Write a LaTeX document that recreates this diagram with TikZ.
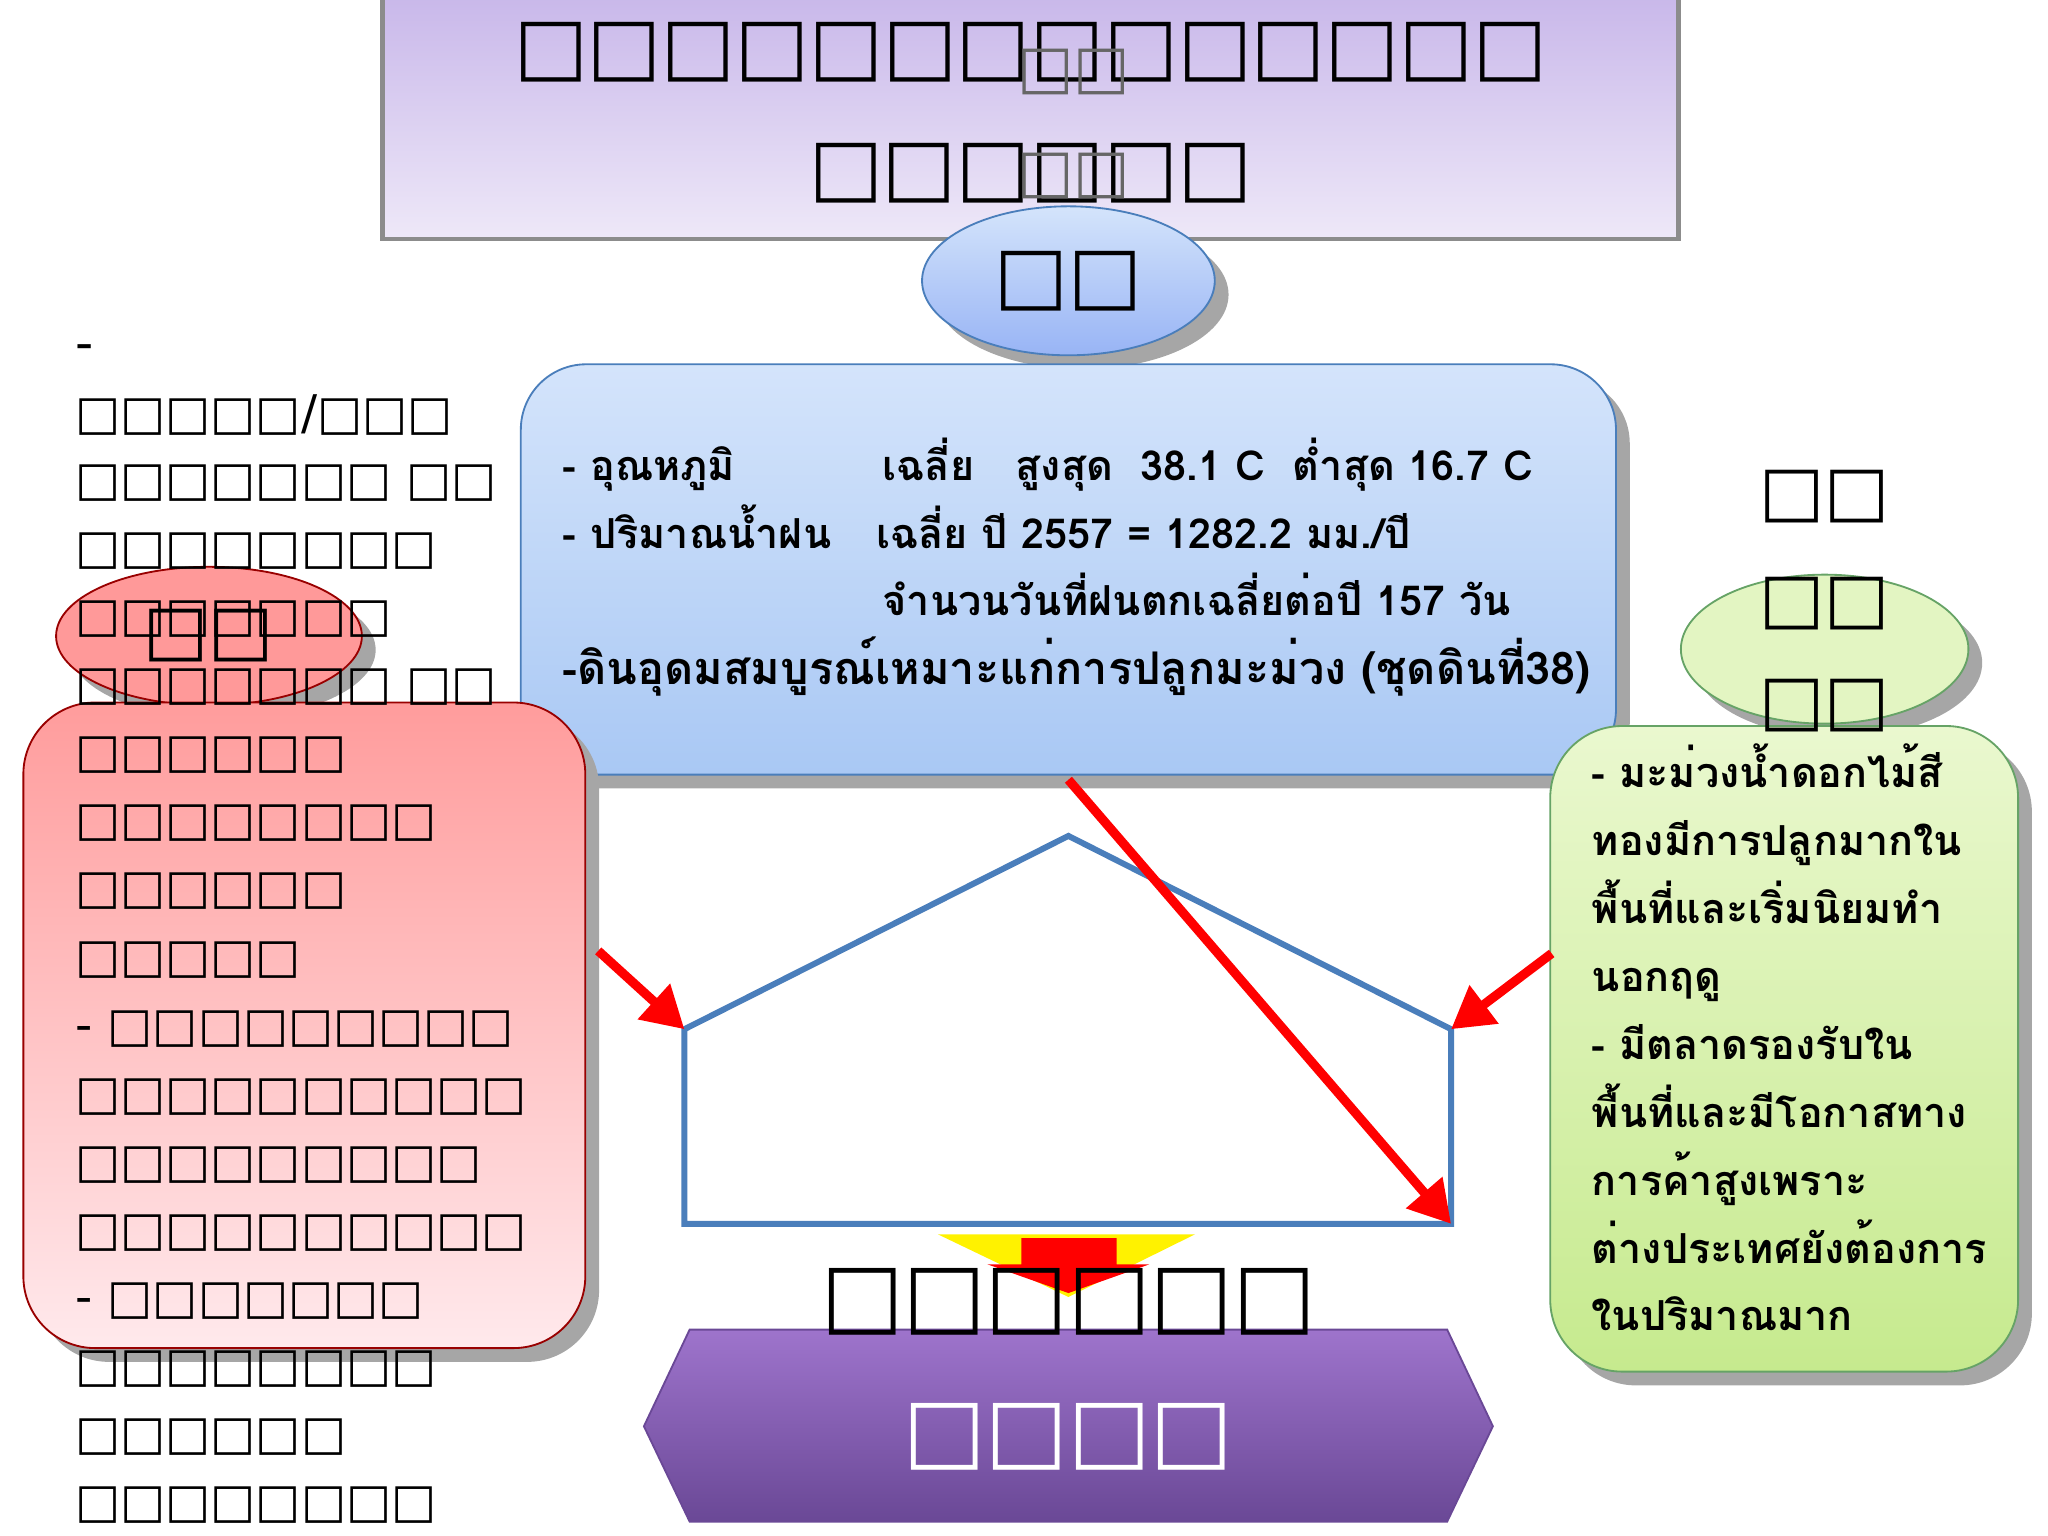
\documentclass[tikz,border=0pt]{standalone}
\usepackage{fontspec}
\setmainfont{DejaVu Sans}
\IfFontExistsTF{Garuda.otf}{\newfontfamily\thaifont{Garuda.otf}[BoldFont=Garuda-Bold.otf]}{%
  \IfFontExistsTF{Loma.otf}{\newfontfamily\thaifont{Loma.otf}[BoldFont=Loma-Bold.otf]}{%
    \newfontfamily\thaifont{DejaVu Sans}}}
\usetikzlibrary{shadows,shapes.geometric,arrows.meta}
\definecolor{titletop}{HTML}{C9B8EA}
\definecolor{titlebot}{HTML}{EEE8F8}
\definecolor{bluetop}{HTML}{D4E4FB}
\definecolor{bluebot}{HTML}{A9C8F4}
\definecolor{redtop}{HTML}{FF9C9C}
\definecolor{redbot}{HTML}{FFE9EC}
\definecolor{greentop}{HTML}{EAF8CF}
\definecolor{greenbot}{HTML}{C6EA8E}
\definecolor{houseblue}{HTML}{4A7EBB}
\definecolor{purtop}{HTML}{9E74CC}
\definecolor{purbot}{HTML}{6A4896}
\tikzset{
  tofu/.style={font=\fontsize{#1}{#1}\selectfont, inner sep=0pt},
  thai/.style={font=\thaifont\fontsize{9}{9}\selectfont\bfseries, inner sep=0pt, anchor=base west},
  redarrow/.style={draw=red, line width=2pt, -{Triangle[length=9pt,width=10pt]}},
  boxshadow/.style={drop shadow={shadow xshift=3pt, shadow yshift=-3pt, fill=gray!70, opacity=1}}
}
\begin{document}
\begin{tikzpicture}[x=0.01cm, y=-0.01cm]
        \useasboundingbox (0,0) rectangle (1568,1176);

        % Title
        \fill [top color=titletop, bottom color=titlebot] (293,-2) rectangle (1285,183);
        \draw [black!45, line width=1pt] (293,-2) -- (293,183) -- (1285,183) -- (1285,-2);
        \node [tofu=17] (t1) at (789,40) {□□□□□□□□□□□□□□};
        \node [tofu=17] (t2) at (789,133) {□□□□□□};
        \node [tofu=13, text=black!60] (t3) at (822,55) {□□};
        \node [tofu=13, text=black!60] (t4) at (822,135) {□□};

        % Ellipses
        \node [ellipse, draw=houseblue, top color=bluetop, bottom color=bluebot!90!blue, boxshadow, minimum width=2.24cm, minimum height=1.14cm, tofu=17] (sky) at (818,215) {□□};
        \node [ellipse, draw=red!60!black, fill=red!40!white, boxshadow, minimum width=2.34cm, minimum height=1.06cm, tofu=15] (weak) at (160,487) {□□};
        \node [ellipse, draw=green!40!black!60, fill=greentop!80!greenbot, boxshadow, minimum width=2.2cm, minimum height=1.14cm] (strong) at (1397,497) {};

        % Center box
        \node [rounded corners=0.5cm, draw=houseblue, top color=bluetop, bottom color=bluebot, boxshadow, minimum width=8.38cm, minimum height=3.14cm] (env) at (818,436) {};
        \node [thai] (e1) at (430,368) {- อุณหภูมิ};
        \node [thai] (e2) at (675,368) {เฉลี่ย\quad สูงสุด\ \ 38.1 C\ \ ต่ำสุด 16.7 C};
        \node [thai] (e3) at (430,420) {- ปริมาณน้ำฝน};
        \node [thai] (e4) at (670,420) {เฉลี่ย ปี 2557 = 1282.2 มม./ปี};
        \node [thai] (e5) at (675,471) {จำนวนวันที่ฝนตกเฉลี่ยต่อปี 157 วัน};
        \node [thai, font=\thaifont\fontsize{9.8}{9.8}\selectfont\bfseries] (e6) at (430,524) {-ดินอุดมสมบูรณ์เหมาะแก่การปลูกมะม่วง (ชุดดินที่38)};

        % Left box
        \node [rounded corners=0.55cm, draw=red!60!black, top color=redtop, bottom color=redbot, boxshadow, minimum width=4.3cm, minimum height=4.94cm] (wbox) at (233,785) {};
        \node [tofu=11, anchor=west] (w0) at (57,270) {-};
        \foreach \yy/\txt in {318/{□□□□□/□□□}, 370/□□□□□□□ □□, 422/□□□□□□□□, 474/□□□□□□□, 526/□□□□□□□ □□, 578/□□□□□□, 630/□□□□□□□□, 682/□□□□□□, 735/□□□□□, 788/- □□□□□□□□□, 840/□□□□□□□□□□, 892/□□□□□□□□□, 944/□□□□□□□□□□, 996/- □□□□□□□, 1048/□□□□□□□□, 1100/□□□□□□, 1152/□□□□□□□□}
          \node [tofu=10.4, anchor=west] at (57,\yy) {\txt};

        % Right box
        \node [rounded corners=0.55cm, draw=green!40!black!60, top color=greentop, bottom color=greenbot, boxshadow, minimum width=3.58cm, minimum height=4.94cm] (sbox) at (1366,803) {};
        \node [tofu=15] (s1) at (1397,380) {□□};
        \node [tofu=15] (s2) at (1397,462) {□□};
        \node [tofu=15] (s3) at (1397,540) {□□};
        \foreach \yy/\txt in {603/- มะม่วงน้ำดอกไม้สี, 655/ทองมีการปลูกมากใน, 707/พื้นที่และเริ่มนิยมทำ, 759/นอกฤดู, 811/- มีตลาดรองรับใน, 863/พื้นที่และมีโอกาสทาง, 915/การค้าสูงเพราะ, 967/ต่างประเทศยังต้องการ, 1019/ในปริมาณมาก}
          \node [thai] at (1218,\yy) {\txt};

        % House
        \coordinate (h1) at (524,788);
        \coordinate (h2) at (818,640);
        \coordinate (h3) at (1111,788);
        \coordinate (h4) at (1111,937);
        \coordinate (h5) at (524,937);
        \draw [houseblue, line width=1.3pt, fill=white] (h1) -- (h2) -- (h3) -- (h4) -- (h5) -- cycle;

        % Arrows
        \coordinate (a1) at (458,728);
        \coordinate (a2) at (1188,730);
        \coordinate (a3) at (818,597);
        \draw [redarrow] (a1) -- (h1);
        \draw [redarrow] (a2) -- (h3);
        \draw [redarrow] (a3) -- (h4);

        % Down arrow
        \fill [yellow] (718,945) -- (915,945) -- (818,993) -- cycle;
        \fill [red] (782,948) -- (855,948) -- (855,968) -- (880,968) -- (818,990) -- (756,968) -- (782,968) -- cycle;

        % Result
        \fill [top color=purtop, bottom color=purbot, draw=purbot] (493,1092) -- (528,1018) -- (1108,1018) -- (1143,1092) -- (1108,1165) -- (528,1165) -- cycle;
        \node [tofu=19] (r1) at (818,997) {□□□□□□};
        \node [tofu=19, text=white] (r2) at (818,1100) {□□□□};
\end{tikzpicture}
\end{document}
